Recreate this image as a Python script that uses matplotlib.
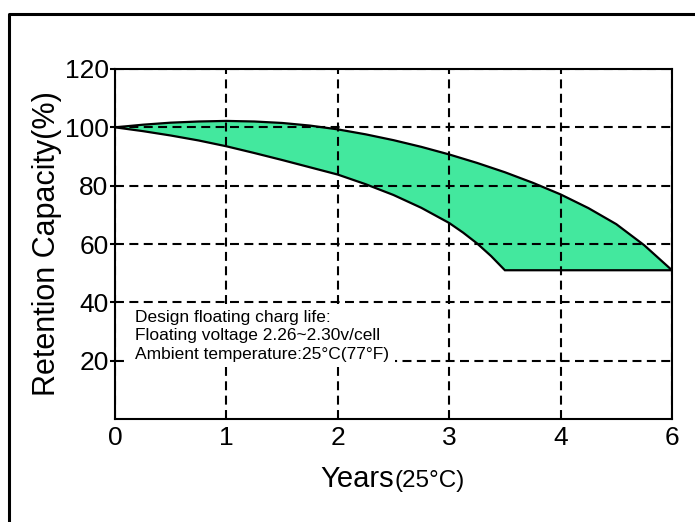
import matplotlib
matplotlib.use('Agg')
import matplotlib.pyplot as plt
from matplotlib.lines import Line2D

plt.rcParams['font.family'] = ['Liberation Sans', 'DejaVu Sans']

# x positions on the axis and the labels printed under them (last one reads 6)
tick_pos = [0, 1, 2, 3, 4, 5]
tick_labels = ['0', '1', '2', '3', '4', '6']
y_ticks = [20, 40, 60, 80, 100, 120]

# upper edge of the band
upper_x = [0, 0.25, 0.5, 0.75, 1.0, 1.25, 1.5, 1.75, 2.0, 2.25, 2.5, 2.75,
           3.0, 3.25, 3.5, 3.75, 4.0, 4.25, 4.5, 4.75, 5.0]
upper_y = [100, 100.9, 101.6, 102.0, 102.2, 102.0, 101.5, 100.6, 99.3, 97.6,
           95.6, 93.3, 90.7, 87.8, 84.6, 81.0, 77.0, 72.3, 66.8, 59.6, 51]

# lower edge of the band
lower_x = [0, 0.25, 0.5, 0.75, 1.0, 1.25, 1.5, 1.75, 2.0, 2.25, 2.5, 2.75,
           3.0, 3.125, 3.25, 3.375, 3.5]
lower_y = [100, 98.7, 97.2, 95.5, 93.5, 91.2, 88.8, 86.3, 83.8, 80.5, 76.8,
           72.4, 67.2, 63.9, 60.2, 55.9, 51]

note = ('Design floating charg life:\n'
        'Floating voltage 2.26~2.30v/cell\n'
        'Ambient temperature:25°C(77°F)')

fig = plt.figure(figsize=(6.95, 5.22), dpi=100)
ax = fig.add_axes([115 / 695, 103 / 522, 557 / 695, 350 / 522])

# band: upper curve left->right, then lower curve back (flat bottom closes it)
ax.fill(upper_x + lower_x[::-1], upper_y + lower_y[::-1],
        facecolor='#43E89E', edgecolor='black', linewidth=1.6, zorder=1)

ax.set_xlim(0, 5)
ax.set_ylim(0, 120)
ax.set_xticks(tick_pos)
ax.set_xticklabels(tick_labels)
ax.set_yticks(y_ticks)
ax.set_axisbelow(False)
ax.grid(True, color='black', linestyle=(0, (4.3, 2.6)), linewidth=1.5)

ax.tick_params(axis='x', length=0, pad=5, labelsize=19)
ax.tick_params(axis='y', direction='out', length=3.6, width=1.5, pad=1,
               labelsize=19)
for sp in ax.spines.values():
    sp.set_linewidth(1.5)

ax.set_ylabel('Retention Capacity(%)', fontsize=22, labelpad=2)

ax.text(0.18, 37.3, note, va='top', ha='left', fontsize=12.5, linespacing=1.27,
        bbox=dict(facecolor='white', edgecolor='none', pad=4), zorder=3)

# x label in two sizes
fig.text(394 / 695, 35 / 522, 'Years', ha='right', va='baseline', fontsize=21)
fig.text(394 / 695, 35 / 522, '(25°C)', ha='left', va='baseline', fontsize=17.5)

# outer frame (only left and top edges visible)
fig.add_artist(Line2D([9 / 695, 9 / 695, 1.0], [0.0, 1 - 13.5 / 522, 1 - 13.5 / 522],
                      transform=fig.transFigure, color='black', linewidth=2.2))

fig.savefig('out.png', dpi=100)
